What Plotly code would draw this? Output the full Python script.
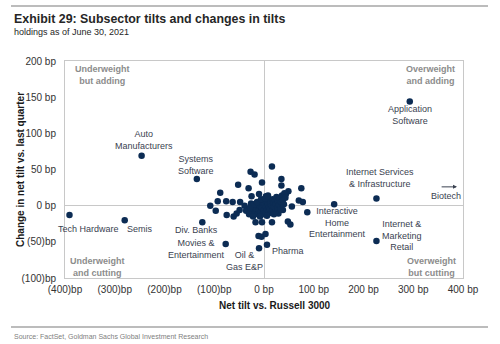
import plotly.graph_objects as go

# Labelled subsectors: net tilt vs. Russell 3000 (bp) and quarterly change (bp)
named_sectors = ["Application Software", "Auto Manufacturers", "Systems Software",
                 "Internet Services & Infrastructure", "Tech Hardware", "Semis",
                 "Div. Banks", "Movies & Entertainment", "Oil & Gas E&P", "Pharma",
                 "Interactive Home Entertainment", "Internet & Marketing Retail"]
named_tilt = [293, -246, -135, 226, -391, -280, -124, -77, -10, 6, 141, 226]
named_change = [144, 69, 37, 10, -13, -20, -23, -53, -59, -54, 2, -49]

# Remaining subsectors (unlabelled)
other_tilt = [16, -27, -19, 35, -4, -52, 35, 75, -31, -88, -10, 49, 44, 8, -25, 4,
              -76, -93, -63, -48, -39, -26, 70, 78, 56, 87, -108, -97, -75, -61,
              -55, -49, -36, 38, 29, -17, -4, 16, 48, 53, -11, -5, 3,
              -24, -18, -16, -12, -10, -8, -6, -4, -2, -2, 0, 1, 3, 4, 5, 6, 8, 9,
              10, 11, 12, 13, 14, 16, 17, 18, 19, 20, 22, 23, 24, 25, 27, 28, 30,
              31, 33, 34, 36, 38, 40, 41, 43, -28, -20, -14, -6, 2, 7, -30, -22,
              -8, 6, 20]
other_change = [54, 47, 43, 37, 32, 29, 28, 24, 24, 18, 16, 20, 16, 14, 13, 13,
                6, 6, 5, 5, 0, 3, 7, 5, -1, -9, 0, -7, -13, -15,
                -11, -6, -7, -6, -11, -23, -23, -23, -22, -26, -42, -43, -39,
                -8, -10, -4, -12, -6, 0, -9, -3, 4, -12, -6, 1, -10, -2, 6, -6, 2, -9,
                -2, 7, -5, 3, -10, 0, 9, -6, 4, -2, 8, -8, 2, 12, -3, 6, 1,
                11, -5, 5, 14, 8, 2, 17, 11, -3, 2, 5, 9, 10, 13, -12, -15,
                -15, -14, -12]

x_ticks = [-400, -300, -200, -100, 0, 100, 200, 300, 400]
x_tick_text = ["(400)bp", "(300)bp", "(200)bp", "(100)bp", "0 bp", "100 bp",
               "200 bp", "300 bp", "400 bp"]
y_ticks = [-100, -50, 0, 50, 100, 150, 200]
y_tick_text = ["(100)bp", "(50)bp", "0 bp", "50 bp", "100 bp", "150 bp", "200 bp"]

# Sector label text and where it sits (data units)
sector_labels = [
    ("Application<br>Software", 294, 125),
    ("Auto<br>Manufacturers", -242, 91),
    ("Systems<br>Software", -137, 56),
    ("Internet Services<br>& Infrastructure", 234, 38),
    ("Biotech", 366, 14),
    ("Tech Hardware", -352, -32),
    ("Semis", -249, -32),
    ("Div. Banks", -135, -34),
    ("Movies &<br>Entertainment", -136, -60),
    ("Oil &<br>Gas E&P", -40, -77),
    ("Pharma", 48, -62),
    ("Interactive<br>Home<br>Entertainment", 148, -23),
    ("Internet &<br>Marketing<br>Retail", 277, -41),
]
quadrant_labels = [
    ("Underweight<br>but adding", -324, 180),
    ("Overweight<br>and adding", 335, 180),
    ("Underweight<br>and cutting", -334, -85),
    ("Overweight<br>but cutting", 337, -85),
]

W, H = 500, 344
L, R, T, B = 65, 37, 61, 66
PW, PH = W - L - R, H - T - B


def px(x):
    return (x - L) / PW


def py(y):
    return (H - B - y) / PH


DOT = "#0c2c54"
GRID = "#c8c8c8"
FONT = "Liberation Sans, Arial, sans-serif"

fig = go.Figure()
fig.add_trace(go.Scatter(x=other_tilt, y=other_change, mode="markers",
                         marker=dict(color=DOT, size=6.5), hoverinfo="skip"))
fig.add_trace(go.Scatter(x=named_tilt, y=named_change, mode="markers",
                         text=named_sectors,
                         marker=dict(color=DOT, size=6.5)))

annotations = []
for txt, x, y in sector_labels:
    annotations.append(dict(text=txt, x=x, y=y, xref="x", yref="y", showarrow=False,
                            xanchor="center", yanchor="middle",
                            font=dict(family=FONT, size=9, color="#3a4250")))
for txt, x, y in quadrant_labels:
    annotations.append(dict(text=txt, x=x, y=y, xref="x", yref="y", showarrow=False,
                            xanchor="center", yanchor="middle",
                            font=dict(family=FONT, size=9, color="#8c8c8c", weight="bold")))

# Biotech lies beyond the x range: arrow pointing off the chart
annotations.append(dict(x=388, y=26, ax=354, ay=26, xref="x", yref="y",
                        axref="x", ayref="y", text="", showarrow=True,
                        arrowhead=2, arrowsize=0.8, arrowwidth=1, arrowcolor="#3a4250"))

annotations += [
    dict(text="<b>Exhibit 29: Subsector tilts and changes in tilts</b>",
         x=px(12), y=py(19), xref="paper", yref="paper", xanchor="left",
         yanchor="middle", showarrow=False,
         font=dict(family=FONT, size=12.4, color="#262626")),
    dict(text="holdings as of June 30, 2021",
         x=px(12), y=py(32), xref="paper", yref="paper", xanchor="left",
         yanchor="middle", showarrow=False,
         font=dict(family=FONT, size=9, color="#262626")),
    dict(text="Source: FactSet, Goldman Sachs Global Investment Research",
         x=px(12), y=py(336), xref="paper", yref="paper", xanchor="left",
         yanchor="middle", showarrow=False,
         font=dict(family=FONT, size=7, color="#808080")),
    dict(text="<b>Net tilt vs. Russell 3000</b>",
         x=px(274.5), y=py(305), xref="paper", yref="paper", showarrow=False,
         xanchor="center", yanchor="middle",
         font=dict(family=FONT, size=10, color="#1a1a1a")),
    dict(text="<b>Change in net tilt vs. last quarter</b>", textangle=-90,
         x=px(20), y=py(170), xref="paper", yref="paper", showarrow=False,
         xanchor="center", yanchor="middle",
         font=dict(family=FONT, size=10, color="#1a1a1a")),
]

shapes = [
    dict(type="line", xref="paper", yref="paper", x0=px(11), x1=px(488),
         y0=py(6), y1=py(6), line=dict(color="#a6a6a6", width=1.5)),
    dict(type="line", xref="paper", yref="paper", x0=px(11), x1=px(488),
         y0=py(327), y1=py(327), line=dict(color="#a6a6a6", width=1.5)),
]

axis_common = dict(showgrid=False, zeroline=True, zerolinecolor=GRID, zerolinewidth=1,
                   showline=True, linecolor=GRID, linewidth=1, mirror=True,
                   ticks="", tickfont=dict(family=FONT, size=10, color="#333333"))

fig.update_layout(
    width=W, height=H,
    margin=dict(l=L, r=R, t=T, b=B, pad=0),
    paper_bgcolor="white", plot_bgcolor="white",
    showlegend=False,
    xaxis=dict(range=[-400, 400], tickvals=x_ticks, ticktext=x_tick_text,
               ticklabelstandoff=2, **axis_common),
    yaxis=dict(range=[-100, 200], tickvals=y_ticks, ticktext=y_tick_text,
               ticklabelstandoff=6, **axis_common),
    annotations=annotations,
    shapes=shapes,
)

fig.write_html("out.html")
